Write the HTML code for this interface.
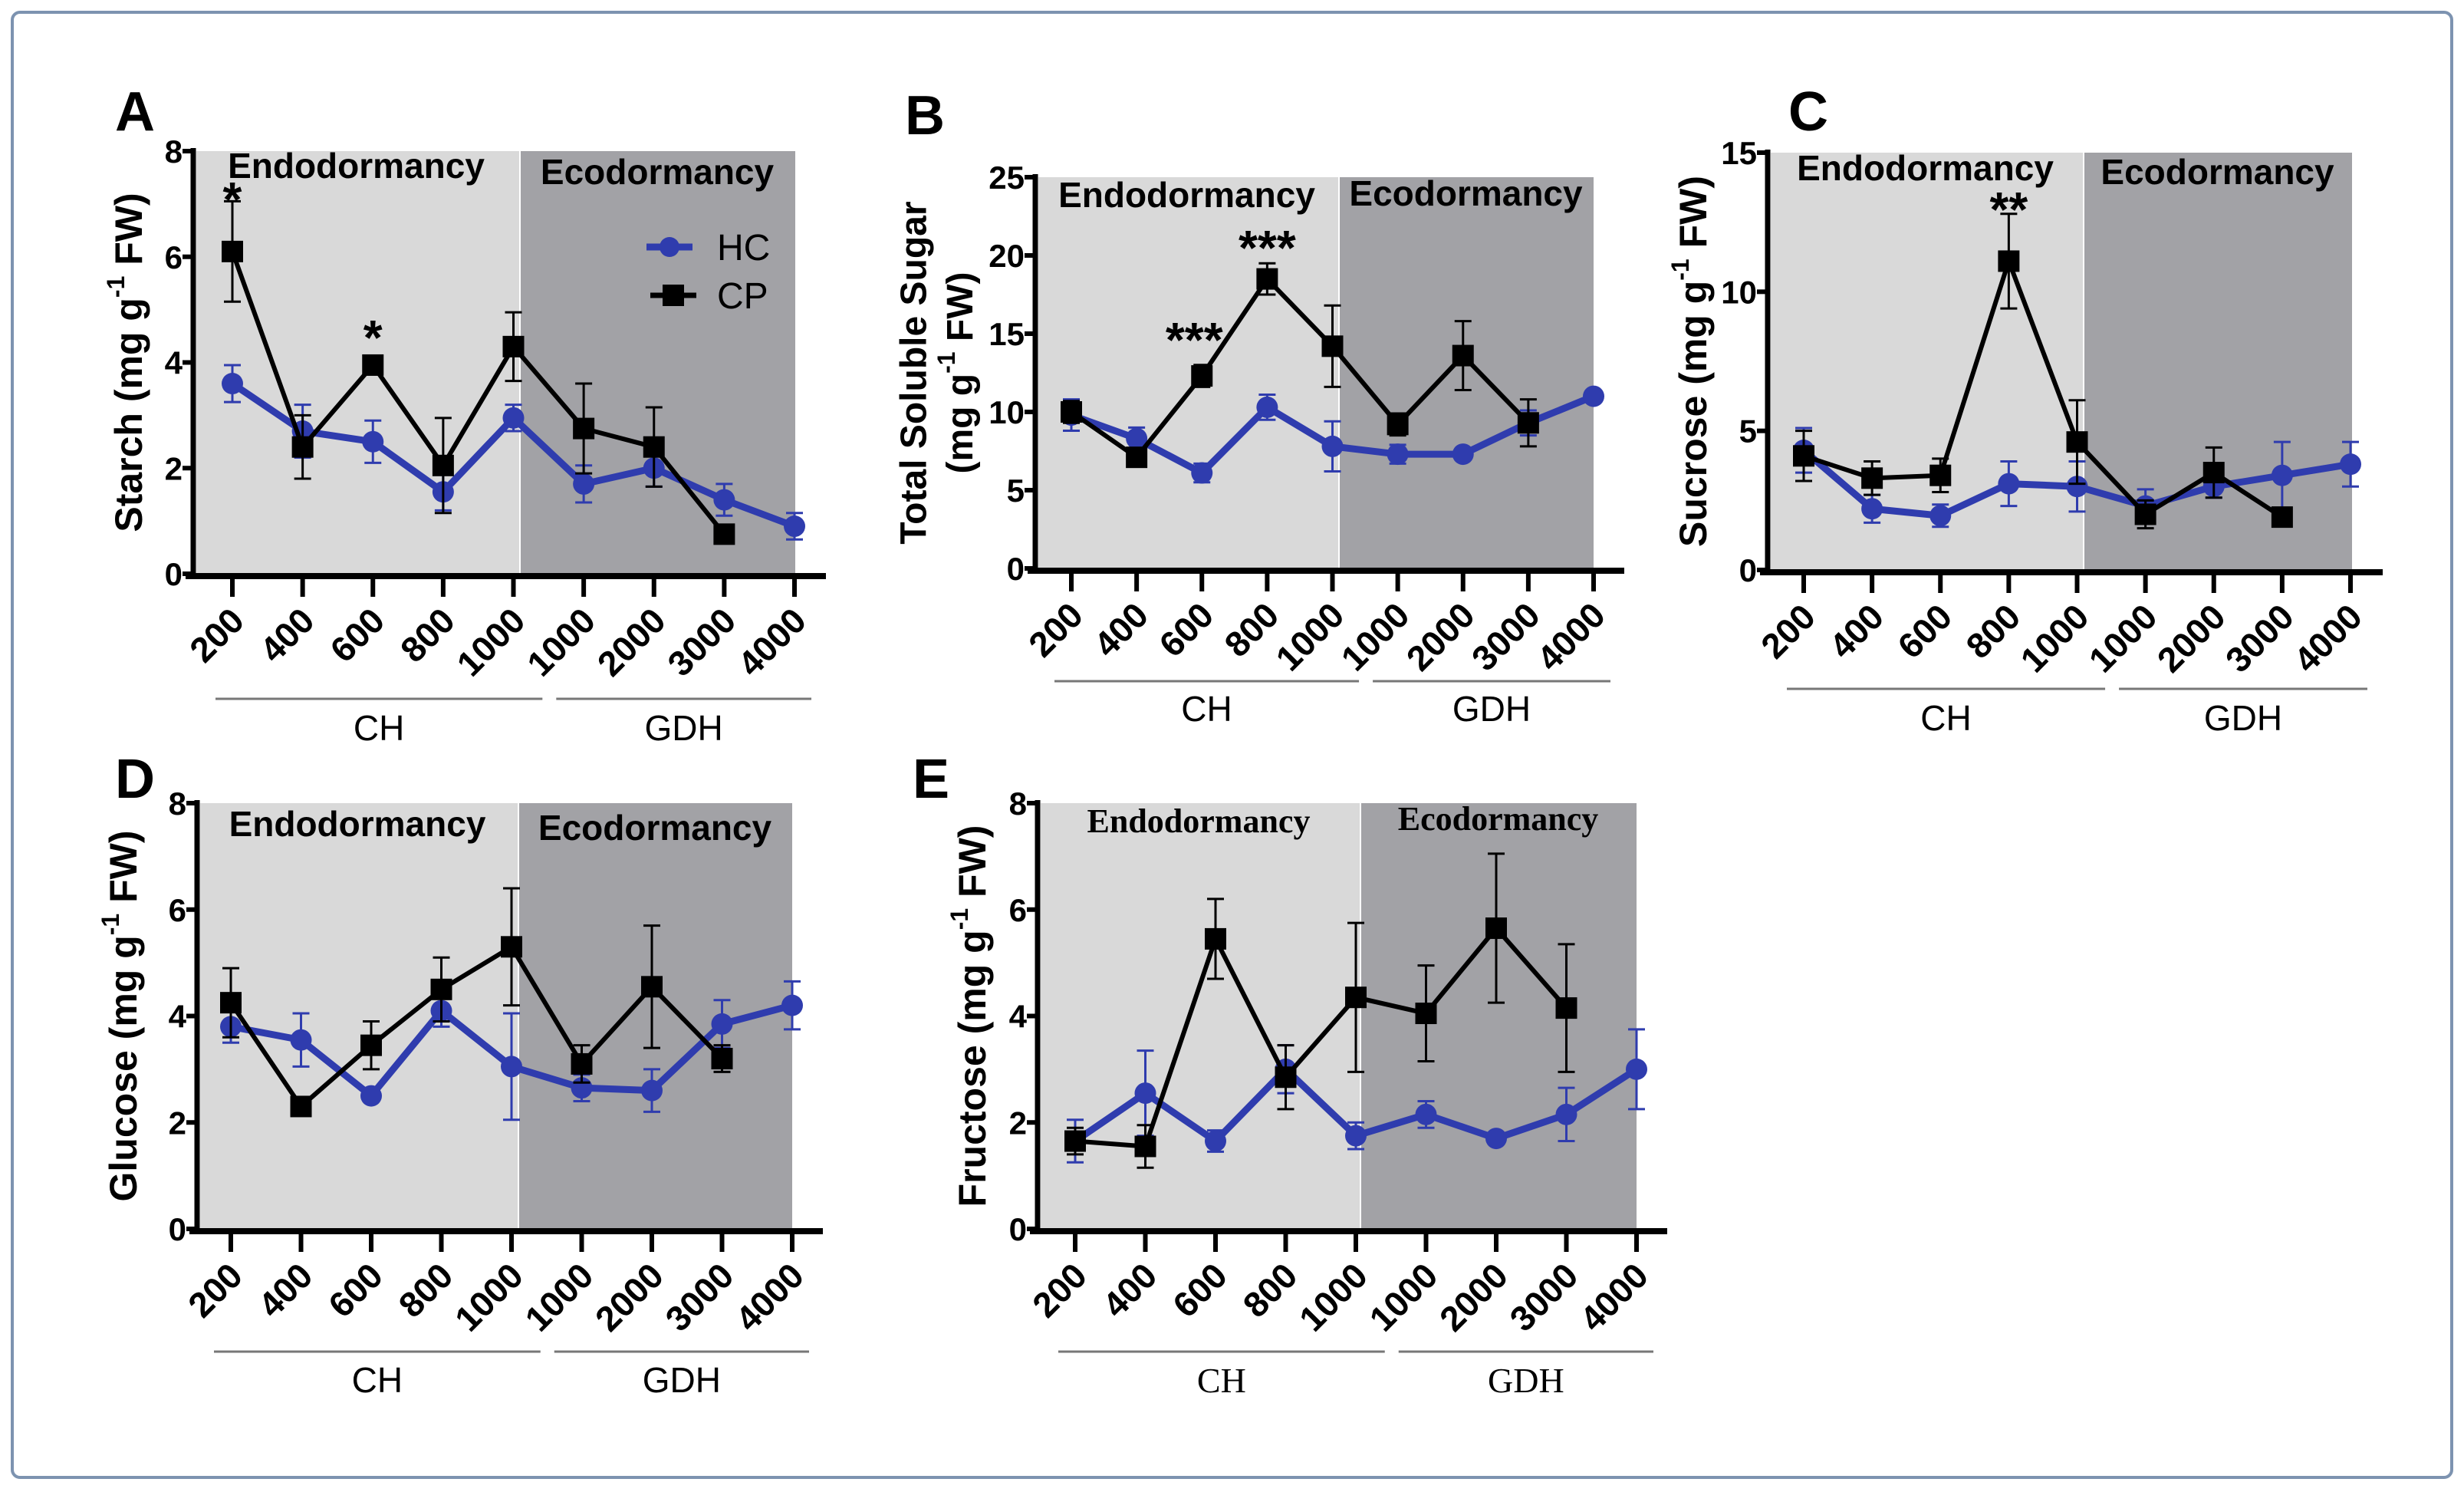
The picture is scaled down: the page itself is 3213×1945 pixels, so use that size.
<!DOCTYPE html>
<html><head><meta charset="utf-8"><style>
body{margin:0;background:#fff;}
svg{display:block;font-family:"Liberation Sans",Arial,sans-serif;}
</style></head><body>
<svg id="fig" width="3213" height="1945" viewBox="0 0 3213 1945" xmlns="http://www.w3.org/2000/svg">
<rect x="16" y="16" width="3181" height="1910" rx="10" fill="#fff" stroke="#7d93b0" stroke-width="4"/>
</svg>
<script>
const categories=["200","400","600","800","1000","1000","2000","3000","4000"];
const hcA=[3.6,2.7,2.5,1.55,2.95,1.7,2.0,1.4,0.9];
const hcAErr=[0.35,0.5,0.4,0.35,0.25,0.35,0.35,0.3,0.25];
const cpA=[6.1,2.4,3.95,2.05,4.3,2.75,2.4,0.75,null];
const cpAErr=[0.95,0.6,0.1,0.9,0.65,0.85,0.75,0.05,0];
const hcB=[9.8,8.3,6.1,10.3,7.8,7.3,7.3,9.3,11.0];
const hcBErr=[1.0,0.7,0.6,0.8,1.6,0.6,0.3,0.8,0.2];
const cpB=[10.0,7.1,12.3,18.5,14.2,9.2,13.6,9.3,null];
const cpBErr=[0.7,0.3,0.7,1.0,2.6,0.7,2.2,1.5,0];
const hcC=[4.3,2.2,1.95,3.1,3.0,2.3,3.0,3.4,3.8];
const hcCErr=[0.8,0.5,0.4,0.8,0.9,0.6,0.4,1.2,0.8];
const cpC=[4.1,3.3,3.4,11.1,4.6,2.0,3.5,1.9,null];
const cpCErr=[0.9,0.6,0.6,1.7,1.5,0.5,0.9,0.1,0];
const hcD=[3.8,3.55,2.5,4.1,3.05,2.65,2.6,3.85,4.2];
const hcDErr=[0.3,0.5,0.05,0.3,1.0,0.25,0.4,0.45,0.45];
const cpD=[4.25,2.3,3.45,4.5,5.3,3.1,4.55,3.2,null];
const cpDErr=[0.65,0.1,0.45,0.6,1.1,0.35,1.15,0.25,0];
const hcE=[1.65,2.55,1.65,3.0,1.75,2.15,1.7,2.15,3.0];
const hcEErr=[0.4,0.8,0.2,0.45,0.25,0.25,0.05,0.5,0.75];
const cpE=[1.65,1.55,5.45,2.85,4.35,4.05,5.65,4.15,null];
const cpEErr=[0.25,0.4,0.75,0.6,1.4,0.9,1.4,1.2,0];
const ticksA=[0,2,4,6,8], ticksB=[0,5,10,15,20,25], ticksC=[0,5,10,15], ticksD=[0,2,4,6,8], ticksE=[0,2,4,6,8];

const NS="http://www.w3.org/2000/svg";
const svg=document.getElementById('fig');
function mk(tag,attrs,parent,text){const e=document.createElementNS(NS,tag);for(const k in attrs)e.setAttribute(k,attrs[k]);if(text!==undefined)e.textContent=text;(parent||svg).appendChild(e);return e;}

const panels=[
 {id:'a',letter:'A',lx:150,ly:170,ax:252,x0:303,x1:1036,top:197,zero:748,max:8,ticks:ticksA,split:677,right:1037,hc:hcA,hce:hcAErr,cp:cpA,cpe:cpAErr,title:['Starch  (mg g','-1',' FW)'],tx:172,gy:911,gly:965,serif:false,endoY:232,ecoY:240},
 {id:'b',letter:'B',lx:1180,ly:175,ax:1350,x0:1397,x1:2078,top:231,zero:741,max:25,ticks:ticksB,split:1745,right:2078,hc:hcB,hce:hcBErr,cp:cpB,cpe:cpBErr,title:null,gy:888,gly:940,serif:false,endoY:270,ecoY:268},
 {id:'c',letter:'C',lx:2332,ly:170,ax:2305,x0:2352,x1:3065,top:199,zero:743,max:15,ticks:ticksC,split:2716,right:3067,hc:hcC,hce:hcCErr,cp:cpC,cpe:cpCErr,title:['Sucrose (mg g','-1',' FW)'],tx:2212,gy:898,gly:952,serif:false,endoY:235,ecoY:240},
 {id:'d',letter:'D',lx:150,ly:1040,ax:257,x0:301,x1:1033,top:1047,zero:1602,max:8,ticks:ticksD,split:675,right:1033,hc:hcD,hce:hcDErr,cp:cpD,cpe:cpDErr,title:['Glucose  (mg g','-1',' FW)'],tx:165,gy:1762,gly:1815,serif:false,endoY:1090,ecoY:1095},
 {id:'e',letter:'E',lx:1190,ly:1040,ax:1353,x0:1402,x1:2134,top:1047,zero:1602,max:8,ticks:ticksE,split:1773,right:2134,hc:hcE,hce:hcEErr,cp:cpE,cpe:cpEErr,title:['Fructose  (mg g','-1',' FW)'],tx:1272,gy:1762,gly:1815,serif:true,endoY:1085,ecoY:1082}
];

panels.forEach(p=>{
 const g=mk('g',{});
 
 
 const n=categories.length;
 const X=i=>p.x0+(p.x1-p.x0)*i/(n-1);
 const Y=v=>p.zero-(p.zero-p.top)*v/p.max;
 p.X=X;p.Y=Y;
 const L=mk('text',{x:p.lx,y:p.ly,'font-size':72,'font-weight':'bold'},g,p.letter);
 
 
 const r1=mk('rect',{x:p.ax+4,y:p.top,width:p.split-p.ax-4,height:p.zero-p.top,fill:'#d9d9d9'},g);
 
 
 const r2=mk('rect',{x:p.split+2,y:p.top,width:p.right-p.split-2,height:p.zero-p.top,fill:'#a2a2a6'},g);
 
 
 const ff=p.serif?'"Liberation Serif",serif':'"Liberation Sans",sans-serif';
 const en=mk('text',{x:(p.ax+p.split)/2,y:p.endoY,'text-anchor':'middle','font-size':p.serif?44:46,'font-weight':'bold','font-family':ff},g,'Endodormancy');
 
 
 const ec=mk('text',{x:(p.split+p.right)/2,y:p.ecoY,'text-anchor':'middle','font-size':p.serif?44:46,'font-weight':'bold','font-family':ff},g,'Ecodormancy');
 
 
 const ya=mk('line',{x1:p.ax,y1:p.top-4,x2:p.ax,y2:p.zero,stroke:'#000','stroke-width':7},g);
 
 
 const xa=mk('line',{x1:p.ax-10,y1:p.zero+3,x2:p.right+40,y2:p.zero+3,stroke:'#000','stroke-width':8},g);
 
 
 p.ticks.forEach(t=>{
  mk('line',{x1:p.ax-14,y1:Y(t),x2:p.ax,y2:Y(t),stroke:'#000','stroke-width':6},g);
  const tl=mk('text',{x:p.ax-14,y:Y(t)+15,'text-anchor':'end','font-size':42,'font-weight':'bold'},g,String(t));
  
  
 });
 categories.forEach((c,i)=>{
  mk('line',{x1:X(i),y1:p.zero,x2:X(i),y2:p.zero+30,stroke:'#000','stroke-width':6},g);
  const tl=mk('text',{x:X(i)+18,y:p.zero+64,'text-anchor':'end','font-size':46,'font-weight':'bold',transform:`rotate(-45 ${X(i)+18} ${p.zero+64})`},g,c);
  
  
 });
 const gx1=X(0)-22,gx2=(X(4)+X(5))/2-8,gx3=gx2+18,gx4=X(8)+22;
 mk('line',{x1:gx1,y1:p.gy,x2:gx2,y2:p.gy,stroke:'#777','stroke-width':3},g);
 mk('line',{x1:gx3,y1:p.gy,x2:gx4,y2:p.gy,stroke:'#777','stroke-width':3},g);
 const ch=mk('text',{x:(gx1+gx2)/2,y:p.gly,'text-anchor':'middle','font-size':46,'font-family':ff},g,'CH');
 
 
 const gd=mk('text',{x:(gx3+gx4)/2,y:p.gly,'text-anchor':'middle','font-size':46,'font-family':ff},g,'GDH');
 
 
 const cy=(p.top+p.zero)/2;
 if(p.title){
  const t=mk('text',{x:p.tx,y:cy,'text-anchor':'middle','font-size':50,'font-weight':'bold',transform:`rotate(-90 ${p.tx} ${cy})`,'dominant-baseline':'middle'},g);
  
  
  mk('tspan',{},t,p.title[0]);mk('tspan',{dy:-18,'font-size':32},t,p.title[1]);mk('tspan',{dy:18},t,p.title[2]);
 }else{
  const t=mk('text',{x:1195,y:cy,'text-anchor':'middle','font-size':48,'font-weight':'bold',transform:`rotate(-90 1195 ${cy})`,'dominant-baseline':'middle'},g,'Total Soluble Sugar');
  
  
  const t2=mk('text',{x:1255,y:cy,'text-anchor':'middle','font-size':48,'font-weight':'bold',transform:`rotate(-90 1255 ${cy})`,'dominant-baseline':'middle'},g);
  
  
  mk('tspan',{},t2,'(mg g');mk('tspan',{dy:-18,'font-size':32},t2,'-1');mk('tspan',{dy:18},t2,' FW)');
 }
 function series(vals,errs,color,name,square,w){
  const sg=mk('g',{},g);
  
  
  vals.forEach((v,i)=>{ if(v===null)return;
   const e=errs[i];
   mk('line',{x1:X(i),y1:Y(v+e),x2:X(i),y2:Y(v-e),stroke:color,'stroke-width':3},sg);
   mk('line',{x1:X(i)-11,y1:Y(v+e),x2:X(i)+11,y2:Y(v+e),stroke:color,'stroke-width':3},sg);
   mk('line',{x1:X(i)-11,y1:Y(v-e),x2:X(i)+11,y2:Y(v-e),stroke:color,'stroke-width':3},sg);
  });
  let d='';vals.forEach((v,i)=>{if(v!==null)d+=(d?'L':'M')+X(i)+' '+Y(v);});
  mk('path',{d:d,fill:'none',stroke:color,'stroke-width':w,'stroke-linejoin':'round'},sg);
  vals.forEach((v,i)=>{ if(v===null)return;
   const m=square?mk('rect',{x:X(i)-14,y:Y(v)-14,width:28,height:28,fill:color},sg):mk('circle',{cx:X(i),cy:Y(v),r:14,fill:color},sg);
   
   
  });
 }
 series(p.hc,p.hce,'#2f3cae','hc',false,9);
 series(p.cp,p.cpe,'#000','cp',true,6);
});
function star(x,y,s){const t=mk('text',{x:x,y:y,'text-anchor':'middle','font-size':64,'font-weight':'bold'},svg,s);
 
 }
star(panels[0].X(0),282,'*');star(panels[0].X(2),462,'*');
star(panels[1].X(2)-10,465,'***');star(panels[1].X(3),345,'***');
star(panels[2].X(3),295,'**');
const lg=mk('g',{});


mk('line',{x1:843,y1:322,x2:903,y2:322,stroke:'#2f3cae','stroke-width':9},lg);
mk('circle',{cx:873,cy:322,r:13,fill:'#2f3cae'},lg);
mk('text',{x:935,y:339,'font-size':48},lg,'HC');
mk('line',{x1:848,y1:385,x2:908,y2:385,stroke:'#000','stroke-width':7},lg);
mk('rect',{x:864,y:371,width:28,height:28,fill:'#000'},lg);
mk('text',{x:935,y:402,'font-size':48},lg,'CP');
</script>
</body></html>
